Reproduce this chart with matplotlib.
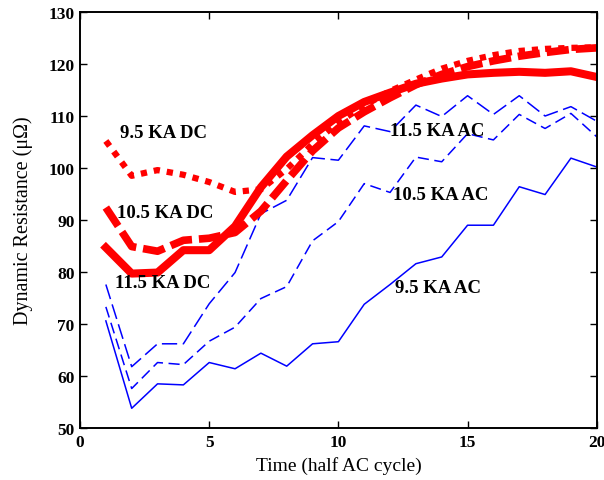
import matplotlib
matplotlib.use("Agg")
import matplotlib.pyplot as plt

plt.rcParams['font.family'] = ['Liberation Serif', 'DejaVu Serif']
plt.rcParams['lines.scale_dashes'] = False

# Half AC cycles
t = list(range(1, 21))

# Dynamic resistance (micro-ohm), AC welding
ac_95 = [70.6, 53.8, 58.5, 58.3, 62.6, 61.4, 64.4, 61.9, 66.2, 66.6,
         73.8, 77.6, 81.6, 82.9, 89.0, 89.0, 96.4, 94.9, 101.9, 100.2]
ac_105 = [73.3, 57.6, 62.6, 62.2, 66.7, 69.4, 74.9, 77.2, 86.0, 89.7,
          97.0, 95.3, 102.1, 101.2, 106.6, 105.4, 110.3, 107.6, 110.5, 106.0]
ac_115 = [77.6, 61.8, 66.2, 66.2, 73.9, 79.9, 91.2, 93.8, 102.0, 101.5,
          108.1, 107.0, 112.1, 109.9, 113.9, 110.3, 113.9, 110.0, 111.8, 109.0]

# Dynamic resistance (micro-ohm), DC welding
dc_95 = [105.2, 98.5, 99.6, 98.7, 97.3, 95.4, 95.9, 99.8, 104.6, 108.8,
         112.0, 114.8, 117.0, 119.1, 120.6, 121.7, 122.5, 122.9, 123.1, 123.2]
dc_105 = [92.4, 84.9, 84.0, 86.1, 86.5, 87.6, 91.7, 97.6, 103.3, 107.7,
          110.8, 113.5, 116.0, 118.0, 119.5, 120.6, 121.5, 122.2, 122.8, 123.1]
dc_115 = [84.7, 79.7, 79.9, 84.2, 84.2, 88.8, 96.3, 102.2, 106.3, 110.0,
          112.7, 114.5, 116.2, 117.2, 118.0, 118.3, 118.5, 118.3, 118.6, 117.5]

labels = ["9.5 KA DC", "10.5 KA DC", "11.5 KA DC",
          "11.5 KA AC", "10.5 KA AC", "9.5 KA AC"]
label_pos = [(1.55, 106.8), (1.45, 91.4), (1.35, 77.9),
             (12.0, 107.2), (12.1, 94.9), (12.2, 77.0)]

fig = plt.figure(figsize=(6.04, 4.81), dpi=100)
ax = fig.add_axes([0.1325, 0.108, 0.8555, 0.865])

blue = '#0000FF'
red = '#FF0000'

ax.plot(t, ac_95, color=blue, lw=1.1)
ax.plot(t, ac_105, color=blue, lw=1.1, dashes=(8, 4))
ax.plot(t, ac_115, color=blue, lw=1.1, dashes=(11, 4))

ax.plot(t, dc_95, color=red, lw=4.5, dashes=(4.5, 5), dash_capstyle='butt')
ax.plot(t, dc_105, color=red, lw=5.5, dashes=(16, 5), dash_capstyle='butt')
ax.plot(t, dc_115, color=red, lw=5.8, solid_joinstyle='round')

for txt, (x, y) in zip(labels, label_pos):
    ax.text(x, y, txt, fontsize=13.5, fontweight='bold', va='center', ha='left')

ax.set_xlim(0, 20)
ax.set_ylim(50, 130)
ax.set_xticks([0, 5, 10, 15, 20])
ax.set_yticks(range(50, 131, 10))
ax.tick_params(direction='in', top=True, right=True, length=5, width=1,
               labelsize=12.5, pad=4)
for lab in ax.get_xticklabels() + ax.get_yticklabels():
    lab.set_fontweight('bold')
for sp in ax.spines.values():
    sp.set_linewidth(1.4)

ax.set_xlabel("Time (half AC cycle)", fontsize=14, labelpad=5)
ax.set_ylabel("Dynamic Resistance (\u03bc\u03a9)", fontsize=14.5, labelpad=11)

fig.savefig("out.png", dpi=100)
